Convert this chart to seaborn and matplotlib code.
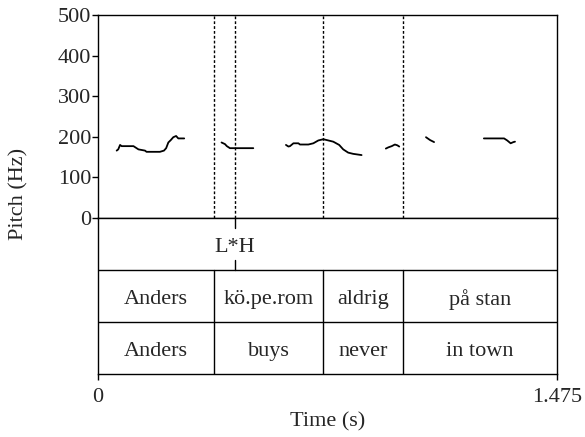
import numpy as np
import pandas as pd
import matplotlib
matplotlib.use("Agg")
import matplotlib.pyplot as plt
import seaborn as sns

# pitch contour pieces (time in s, F0 in Hz)
seg1_t = [0.060, 0.065, 0.071, 0.076, 0.114, 0.130, 0.151, 0.156, 0.199,
          0.212, 0.219, 0.226, 0.234, 0.242, 0.251, 0.258, 0.277]
seg1_f = [166, 169, 180, 177, 177, 169, 166, 163, 163,
          166, 172, 186, 192, 199, 202, 196, 196]
seg2_t = [0.397, 0.408, 0.414, 0.424, 0.499]
seg2_f = [186, 182, 177, 172, 172]
seg3_t = [0.604, 0.612, 0.617, 0.628, 0.644, 0.649, 0.676, 0.692, 0.708,
          0.724, 0.735, 0.756, 0.775, 0.788, 0.804, 0.820, 0.847]
seg3_f = [180, 176, 177, 184, 184, 181, 181, 184, 191,
          194, 192, 188, 180, 169, 161, 158, 155]
seg4_t = [0.925, 0.933, 0.944, 0.954, 0.962, 0.968]
seg4_f = [171, 174, 177, 181, 179, 176]
seg5_t = [1.054, 1.067, 1.080]
seg5_f = [199, 192, 187]
seg6_t = [1.240, 1.305, 1.315, 1.326, 1.335, 1.340]
seg6_f = [196, 196, 191, 184, 187, 188]

t_end = 1.475
bounds = [0.373, 0.723, 0.980]
tone_time = 0.440
tone_label = "L*H"
words = ["Anders", "kö.pe.rom", "aldrig", "på stan"]
gloss = ["Anders", "buys", "never", "in town"]

pieces = [(seg1_t, seg1_f), (seg2_t, seg2_f), (seg3_t, seg3_f),
          (seg4_t, seg4_f), (seg5_t, seg5_f), (seg6_t, seg6_f)]
pitch = pd.concat(
    [pd.DataFrame({"time": t, "f0": f, "seg": i}) for i, (t, f) in enumerate(pieces)],
    ignore_index=True,
)

sns.set_style("ticks")
plt.rcParams["font.family"] = ["Liberation Serif", "DejaVu Serif"]
FS = 16
plt.rcParams["font.size"] = FS

W, H = 585, 437
fig = plt.figure(figsize=(W / 100, H / 100), dpi=100)
x0, x1 = 98 / W, 557 / W
ax_p = fig.add_axes([x0, 1 - 218 / H, x1 - x0, (218 - 15) / H])
ax_t = fig.add_axes([x0, 1 - 374 / H, x1 - x0, (374 - 218) / H])

sns.lineplot(data=pitch, x="time", y="f0", units="seg", estimator=None,
             color="black", lw=1.3, ax=ax_p, sort=False)
ax_p.set_xlim(0, t_end)
ax_p.set_ylim(0, 500)
ax_p.set_yticks(range(0, 501, 100))
ax_p.set_xticks([])
ax_p.set_xlabel("")
ax_p.set_ylabel("")
ax_p.tick_params(axis="y", length=4.5, width=1, pad=0.5, labelsize=FS, color="black")
fig.text(19 / W, 1 - 194 / H, "Pitch (Hz)", rotation=90, ha="center", va="center",
         fontsize=FS)

for b in [bounds[0], tone_time, bounds[1], bounds[2]]:
    ax_p.axvline(b, color="black", lw=1, linestyle=(0, (2, 1.5)))

# tiers
ax_t.set_xlim(0, t_end)
ax_t.set_ylim(0, 3)
ax_t.axhline(1, color="black", lw=1)
ax_t.axhline(2, color="black", lw=1)
for b in bounds:
    ax_t.plot([b, b], [0, 2], color="black", lw=1)
ax_t.plot([tone_time, tone_time], [3, 2.8], color="black", lw=1)
ax_t.plot([tone_time, tone_time], [2, 2.2], color="black", lw=1)
dy = 0.06
ax_t.text(tone_time, 2.5 - dy, tone_label, ha="center", va="center", fontsize=FS)

edges = [0] + bounds + [t_end]
for i in range(len(words)):
    cx = (edges[i] + edges[i + 1]) / 2
    ax_t.text(cx, 1.5 - dy, words[i], ha="center", va="center", fontsize=FS)
    ax_t.text(cx, 0.5 - dy, gloss[i], ha="center", va="center", fontsize=FS)

ax_t.set_yticks([])
ax_t.set_xticks([0, t_end])
ax_t.set_xticklabels(["0", "1.475"])
ax_t.tick_params(axis="x", length=4, width=1, pad=6, labelsize=FS, color="black")
fig.text((x0 + x1) / 2, 1 - 422 / H, "Time (s)", ha="center", va="center", fontsize=FS)

for ax in (ax_p, ax_t):
    for s in ax.spines.values():
        s.set_visible(True)
        s.set_color("black")
        s.set_linewidth(1)

fig.savefig("out.png", dpi=100)
